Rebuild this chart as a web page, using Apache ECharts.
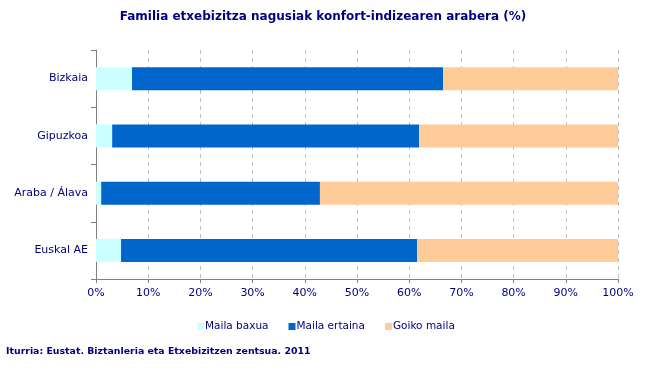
<!DOCTYPE html>
<html>
<head>
<meta charset="utf-8">
<script src="https://cdn.jsdelivr.net/npm/echarts@6/dist/echarts.min.js"></script>
<style>
  html, body { margin: 0; padding: 0; background: #fff; }
  #main { width: 646px; height: 376px; }
</style>
</head>
<body>
<div id="main"></div>
<script>
// datuak, goitik behera
const categories = ['Bizkaia', 'Gipuzkoa', 'Araba / Álava', 'Euskal AE']
const mailaBaxua = [6.9, 3.1, 1.0, 4.8]
const mailaErtaina = [59.6, 58.8, 41.9, 56.7]
const goikoMaila = [33.5, 38.1, 57.1, 38.5]
const seriesNames = ['Maila baxua', 'Maila ertaina', 'Goiko maila']

const navy = '#000080'
const font = 'DejaVu Sans, Verdana, sans-serif'

const chart = echarts.init(document.getElementById('main'))

function bar(name, data) {
  return {
    name: name,
    type: 'bar',
    stack: 'total',
    barWidth: 23,
    data: data
  }
}

chart.setOption({
  animation: false,
  color: ['#CCFFFF', '#0066CC', '#FFCC99'],
  title: [
    {
      text: 'Familia etxebizitza nagusiak konfort-indizearen arabera (%)',
      left: 'center', top: 6,
      textStyle: { color: navy, fontSize: 12, fontWeight: 'bold', fontFamily: font }
    },
    {
      text: 'Iturria: Eustat. Biztanleria eta Etxebizitzen zentsua. 2011',
      left: 1, top: 342,
      textStyle: { color: navy, fontSize: 9.4, fontWeight: 'bold', fontFamily: font }
    }
  ],
  legend: {
    data: seriesNames,
    top: 316, left: 192,
    itemWidth: 7, itemHeight: 7, itemGap: 20,
    icon: 'rect',
    textStyle: { color: navy, fontSize: 10.5, fontFamily: font, padding: [0, 0, 0, -4] }
  },
  grid: { left: 96, right: 28, top: 50, bottom: 97 },
  xAxis: {
    type: 'value',
    min: 0, max: 100, interval: 10,
    axisLine: { show: true, lineStyle: { color: '#808080' } },
    axisTick: { show: true, length: 4, lineStyle: { color: '#808080' } },
    splitLine: { show: true, lineStyle: { color: '#c0c0c0', type: [4, 4] } },
    axisLabel: { color: navy, fontSize: 11, fontFamily: font, margin: 9, formatter: '{value}%' }
  },
  yAxis: {
    type: 'category',
    inverse: true,
    data: categories,
    axisLine: { show: true, lineStyle: { color: '#808080' } },
    axisTick: { show: true, length: 5, lineStyle: { color: '#808080' } },
    axisLabel: { color: navy, fontSize: 11, fontFamily: font, margin: 8 }
  },
  series: [
    bar(seriesNames[0], mailaBaxua),
    bar(seriesNames[1], mailaErtaina),
    bar(seriesNames[2], goikoMaila)
  ]
})
</script>
</body>
</html>
